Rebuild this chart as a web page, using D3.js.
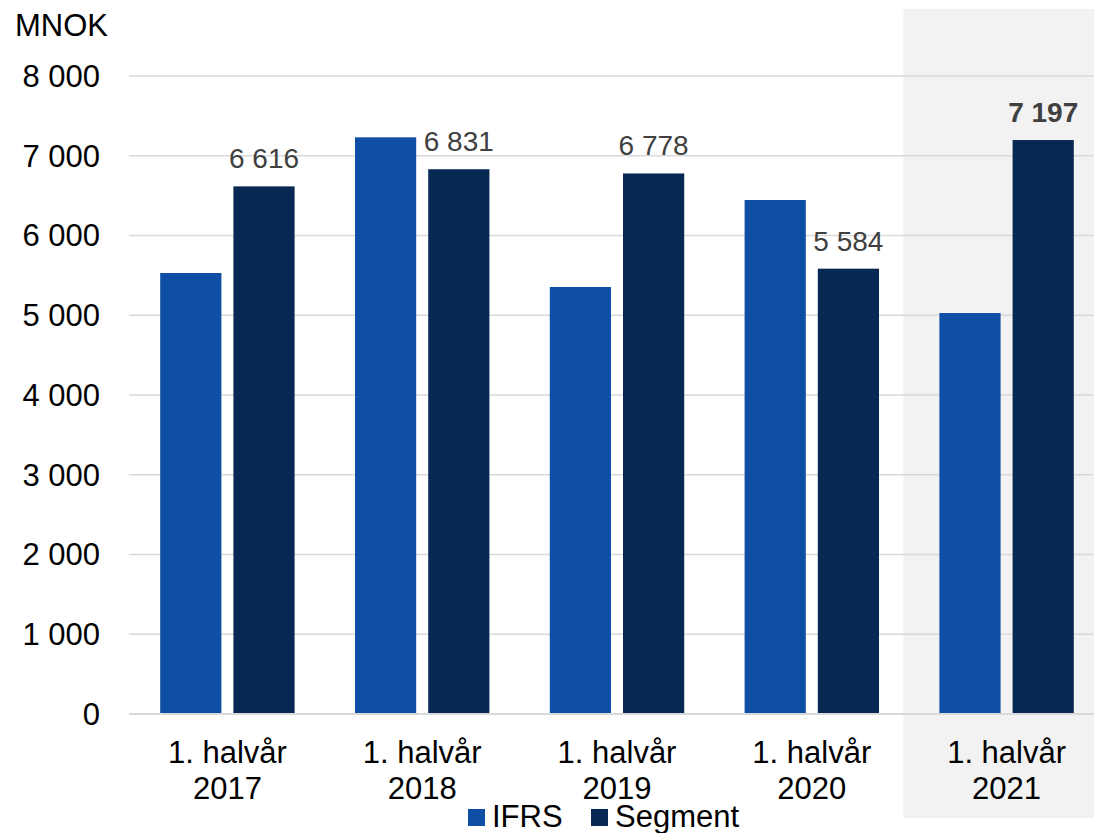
<!DOCTYPE html>
<html>
<head>
<meta charset="utf-8">
<script src="https://cdn.jsdelivr.net/npm/d3@7"></script>
<style>
  html, body { margin: 0; padding: 0; background: #fff; }
  svg { display: block; font-family: "Liberation Sans", Arial, sans-serif; }
</style>
</head>
<body>
<svg id="chart" width="1094" height="833"></svg>
<script>
(function () {
  "use strict";

  // data
  const categories = ["1. halvår 2017", "1. halvår 2018", "1. halvår 2019", "1. halvår 2020", "1. halvår 2021"];
  const series = ["IFRS", "Segment"];
  const ifrsValues = [5530, 7231, 5354, 6445, 5028];
  const segmentValues = [6616, 6831, 6778, 5584, 7197];
  const yTicks = [0, 1000, 2000, 3000, 4000, 5000, 6000, 7000, 8000];
  const highlightCategory = "1. halvår 2021";

  const COLORS = { IFRS: "#0e4ea5", Segment: "#072853" };

  const svg = d3.select("#chart");
  const W = 1094;
  const left = 130, right = 1104, top = 76, bottom = 714;
  const FS = 31;

  const nb = d3.formatLocale({ decimal: ",", thousands: " ", grouping: [3], currency: ["", " kr"] });
  const fmt = nb.format(",d");

  const rows = categories.map((c, i) => ({ cat: c, IFRS: ifrsValues[i], Segment: segmentValues[i] }));

  const x0 = d3.scaleBand().domain(categories).range([left, right]).paddingInner(0.31).paddingOuter(0.155);
  const x1 = d3.scaleBand().domain(series).range([0, x0.bandwidth()]).paddingInner(0.164);
  const y = d3.scaleLinear().domain([0, 8000]).range([bottom, top]);

  // shaded panel behind latest period
  const hx = x0(highlightCategory) - 36;
  svg.append("rect")
    .attr("x", hx).attr("y", 9)
    .attr("width", W - hx).attr("height", 809)
    .attr("fill", "#f2f2f2");

  // gridlines + y labels
  svg.append("g").selectAll("line")
    .data(yTicks.filter((t) => t > 0))
    .join("line")
    .attr("x1", 129).attr("x2", W)
    .attr("y1", (d) => y(d)).attr("y2", (d) => y(d))
    .attr("stroke", "#d9d9d9").attr("stroke-width", 1.5);

  svg.append("g").selectAll("text")
    .data(yTicks)
    .join("text")
    .attr("x", 100)
    .attr("y", (d) => y(d))
    .attr("dy", "0.35em")
    .attr("text-anchor", "end")
    .attr("font-size", FS)
    .attr("fill", "#000")
    .text((d) => fmt(d));

  svg.append("text")
    .attr("x", 15).attr("y", 36)
    .attr("font-size", FS)
    .attr("fill", "#000")
    .text("MNOK");

  // bars
  const groups = svg.append("g").selectAll("g")
    .data(rows)
    .join("g")
    .attr("transform", (d) => `translate(${x0(d.cat)},0)`);

  groups.selectAll("rect")
    .data((d) => series.map((s) => ({ key: s, value: d[s] })))
    .join("rect")
    .attr("x", (d) => x1(d.key))
    .attr("width", x1.bandwidth())
    .attr("y", (d) => y(d.value))
    .attr("height", (d) => y(0) - y(d.value))
    .attr("fill", (d) => COLORS[d.key]);

  // value labels on Segment bars
  groups.append("text")
    .attr("x", x1("Segment") + x1.bandwidth() / 2)
    .attr("y", (d) => y(d.Segment) - 18)
    .attr("text-anchor", "middle")
    .attr("font-size", 28)
    .attr("font-weight", (d) => (d.cat === highlightCategory ? "bold" : "normal"))
    .attr("fill", "#404040")
    .text((d) => fmt(d.Segment));

  // x axis line
  svg.append("line")
    .attr("x1", 129).attr("x2", W)
    .attr("y1", bottom).attr("y2", bottom)
    .attr("stroke", "#d9d9d9").attr("stroke-width", 2);

  // category labels, two lines
  const catText = svg.append("g").selectAll("text")
    .data(categories)
    .join("text")
    .attr("text-anchor", "middle")
    .attr("font-size", FS)
    .attr("fill", "#000");
  catText.append("tspan")
    .attr("x", (d) => x0(d) + x0.bandwidth() / 2)
    .attr("y", 763)
    .text((d) => d.split(" ").slice(0, 2).join(" "));
  catText.append("tspan")
    .attr("x", (d) => x0(d) + x0.bandwidth() / 2)
    .attr("y", 799)
    .text((d) => d.split(" ")[2]);

  // legend
  const legend = svg.append("g").attr("transform", "translate(468,827)");
  const legendX = [0, 123];
  series.forEach((s, i) => {
    const g = legend.append("g").attr("transform", `translate(${legendX[i]},0)`);
    g.append("rect").attr("x", 0).attr("y", -18).attr("width", 17).attr("height", 17).attr("fill", COLORS[s]);
    g.append("text").attr("x", 24).attr("y", 0).attr("font-size", FS).attr("fill", "#000").text(s);
  });
})();
</script>
</body>
</html>
